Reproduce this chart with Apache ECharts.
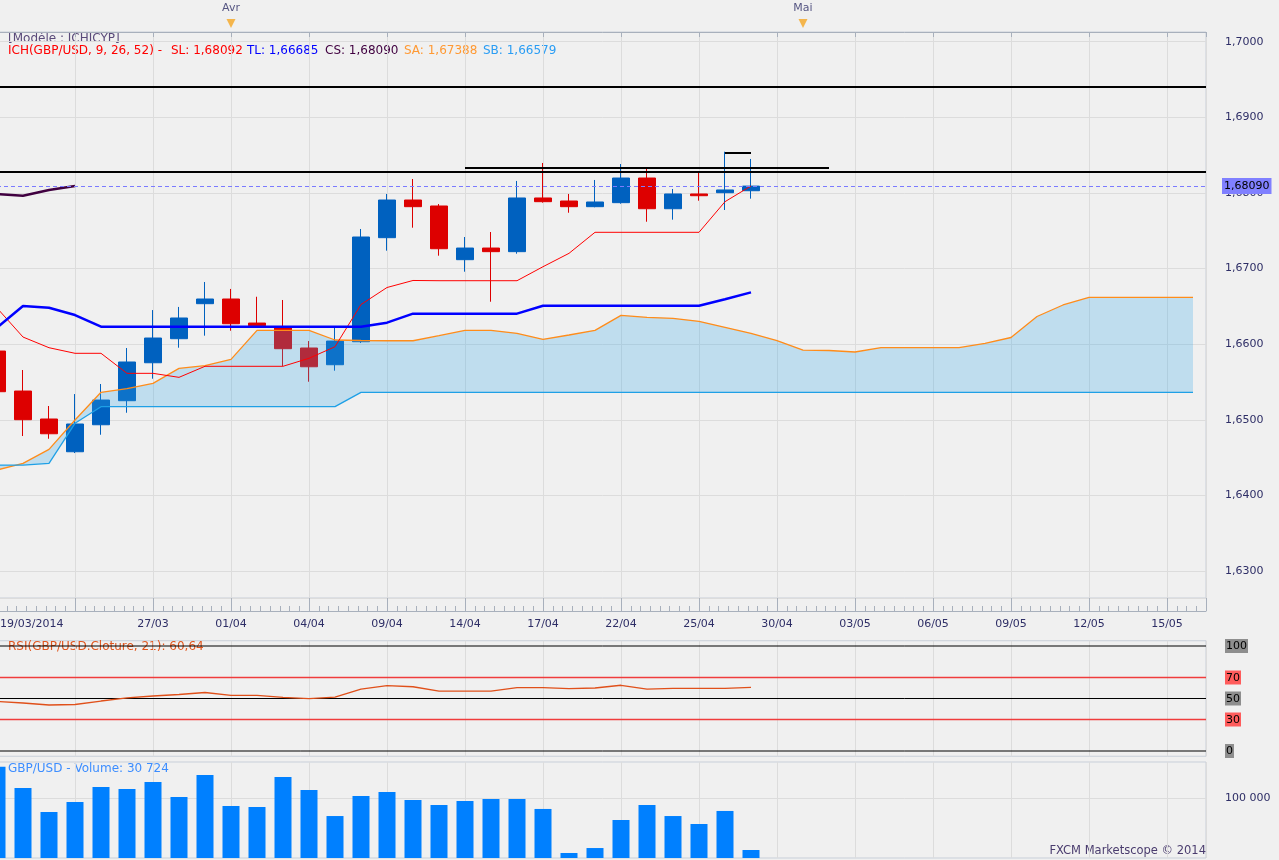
<!DOCTYPE html>
<html><head><meta charset="utf-8">
<script src="https://cdn.jsdelivr.net/npm/echarts@6/dist/echarts.min.js"></script>
<style>html,body{margin:0;padding:0;background:#F0F0F0;}#c{width:1279px;height:860px;}</style>
</head><body><div id="c"></div>
<script>
// ---------- data ----------
const dates = ['19/03/2014','20/03','21/03','24/03','25/03','26/03','27/03','28/03','31/03','01/04','02/04','03/04','04/04','07/04','08/04','09/04','10/04','11/04','14/04','15/04','16/04','17/04','18/04','21/04','22/04','23/04','24/04','25/04','28/04','29/04','30/04','01/05','02/05','03/05','04/05','05/05','06/05','07/05','08/05','09/05','10/05','11/05','12/05','13/05','14/05','15/05','16/05'];
const hiddenLabelIdx = [3];
const monthIdx = [9, 31];
const monthNames = ['Avr', 'Mai'];

const open  = [1.65909,1.65380,1.65010,1.64577,1.64934,1.65252,1.65754,1.66072,1.66535,1.66597,1.66279,1.66217,1.65949,1.65728,1.66032,1.67408,1.67906,1.67827,1.67117,1.67271,1.67223,1.67933,1.67893,1.67818,1.67871,1.68197,1.67791,1.67986,1.68003,1.68029];
const close = [1.65371,1.65001,1.64815,1.64944,1.65261,1.65764,1.66081,1.66346,1.66597,1.66270,1.66244,1.65940,1.65701,1.66041,1.67417,1.67906,1.67818,1.67262,1.67271,1.67223,1.67933,1.67884,1.67818,1.67880,1.68197,1.67791,1.67986,1.67963,1.68039,1.68090];
const low   = [1.65300,1.64785,1.64749,1.64560,1.64802,1.65093,1.65543,1.65953,1.66112,1.66178,1.66230,1.65711,1.65503,1.65649,1.66015,1.67236,1.67540,1.67170,1.66958,1.66561,1.67196,1.67871,1.67738,1.67810,1.67857,1.67619,1.67646,1.67897,1.67774,1.67924];
const high  = [1.66000,1.65658,1.65182,1.65340,1.65473,1.65949,1.66451,1.66492,1.66822,1.66730,1.66627,1.66584,1.66041,1.66217,1.67523,1.67986,1.68184,1.67853,1.67417,1.67483,1.68158,1.68396,1.67986,1.68171,1.68382,1.68330,1.68052,1.68277,1.68545,1.68449];

const tenkan = [1.66478,1.66094,1.65953,1.65879,1.65879,1.65614,1.65614,1.65561,1.65707,1.65707,1.65707,1.65707,1.65813,1.65966,1.66524,1.66749,1.66842,1.66839,1.66839,1.66839,1.66839,1.67024,1.67201,1.67479,1.67479,1.67479,1.67479,1.67479,1.67884,1.68092];
const kijun  = [1.66219,1.66504,1.66482,1.66385,1.66231,1.66231,1.66231,1.66231,1.66231,1.66231,1.66231,1.66231,1.66231,1.66231,1.66231,1.66284,1.66403,1.66403,1.66403,1.66403,1.66403,1.66508,1.66508,1.66508,1.66508,1.66508,1.66508,1.66508,1.66593,1.66685];
const chikou = [1.67986,1.67963,1.68039,1.68090];
const senkouA = [1.64335,1.64424,1.64609,1.64997,1.65363,1.65411,1.65482,1.65680,1.65715,1.65799,
                 1.66183,1.66183,1.66183,1.66055,1.66048,1.66045,1.66045,1.66112,1.66183,1.66183,
                 1.66143,1.66064,1.66121,1.66183,1.66381,1.66355,1.66342,1.66302,1.66223,1.66143,
                 1.66048,1.65922,1.65916,1.65896,1.65953,1.65953,1.65953,1.65953,1.66011,1.66088,
                 1.66366,1.66518,1.66619,1.66619,1.66619,1.66619,1.66619];
const senkouB = [1.64401,1.64401,1.64424,1.64953,1.65173,1.65173,1.65173,1.65173,1.65173,1.65173,
                 1.65173,1.65173,1.65173,1.65173,1.65363,1.65363,1.65363,1.65363,1.65363,1.65363,
                 1.65363,1.65363,1.65363,1.65363,1.65363,1.65363,1.65363,1.65363,1.65363,1.65363,
                 1.65363,1.65363,1.65363,1.65363,1.65363,1.65363,1.65363,1.65363,1.65363,1.65363,
                 1.65363,1.65363,1.65363,1.65363,1.65363,1.65363,1.65363];

const levelPrices = [1.6940, 1.6828, 1.68334, 1.68532];
const levelStart  = [0, 0, 18, 28];
const levelEnd    = [46.5, 46.5, 32, 29];

const rsi = [47.1,45.7,43.8,44.3,47.6,50.5,52.4,53.8,55.7,53.0,53.0,51.0,49.8,51.4,59.0,62.2,61.2,57.1,57.1,57.1,60.3,60.3,59.5,60.0,62.6,59.0,59.7,59.7,59.7,60.64];
const rsiLevels = [100, 70, 50, 30, 0];
const rsiLevelKind = ['g', 'r', 'g', 'r', 'g'];

const volume = [142700,114100,81800,95300,115400,112700,122100,102000,131600,89900,88500,128900,111400,76400,103300,108700,98000,91200,96600,99300,99300,85900,26700,33400,71100,91200,76400,65700,83200,30724];
const volumeRef = [100000];

const legendParts = [
  {t:'ICH(GBP/USD, 9, 26, 52) -', c:'#FF0000', x:8},
  {t:'SL: 1,68092', c:'#FF0000', x:171},
  {t:'TL: 1,66685', c:'#0000FF', x:247},
  {t:'CS: 1,68090', c:'#400040', x:325},
  {t:'SA: 1,67388', c:'#FF9933', x:404},
  {t:'SB: 1,66579', c:'#2A9DF4', x:483}
];

// ---------- chart ----------
const FONT = '"DejaVu Sans", Verdana, sans-serif';
const AX = '#A8B0BC';
const GRIDC = '#DCDCDC';
const LBL = '#2E2E66';
const XMAX = 46.5;
const fmt = (v, d) => v.toFixed(d).replace('.', ',');
const last = close.length - 1;
const thousands = v => String(v).replace(/\B(?=(\d{3})+(?!\d))/g, ' ');

const gridBase = {left: -3, width: 1209, containLabel: false, outerBoundsMode: 'none',
  show: true, borderColor: '#C8CFD9', borderWidth: 1, backgroundColor: 'transparent'};

const hiddenX = (gi) => ({gridIndex: gi, type: 'value', min: 0, max: XMAX, interval: 3,
  axisLine: {show: false}, axisTick: {show: false}, axisLabel: {show: false},
  splitLine: {show: true, lineStyle: {color: GRIDC, width: 1}}});
const frameY = (gi) => ({gridIndex: gi, type: 'value', position: 'right', offset: 15, min: 0, max: 1,
  axisLine: {show: true, lineStyle: {color: AX}}, axisTick: {show: false}, axisLabel: {show: false},
  splitLine: {show: false}});

const rsiLevelSeries = rsiLevels.map((v, k) => ({
  type: 'line', xAxisIndex: 2, yAxisIndex: 2, z: 3, symbol: 'none', silent: true,
  data: [[0, v], [XMAX, v]],
  itemStyle: {color: rsiLevelKind[k] === 'g' ? '#000000' : '#F03C3C'},
  lineStyle: {type: 'solid', width: rsiLevelKind[k] === 'g' ? 1 : 1.3, color: rsiLevelKind[k] === 'g' ? '#000000' : '#F03C3C'}
}));

const chart = echarts.init(document.getElementById('c'), null, {renderer: 'canvas'});
chart.setOption({
  animation: false,
  backgroundColor: '#F0F0F0',
  textStyle: {fontFamily: FONT},
  grid: [
    Object.assign({}, gridBase, {top: 19, height: 13, show: false}),
    Object.assign({}, gridBase, {top: 32, height: 566}),
    Object.assign({}, gridBase, {top: 640.75, height: 115.5}),
    Object.assign({}, gridBase, {top: 762, height: 96}),
    Object.assign({}, gridBase, {top: 598, height: 13, show: false})
  ],
  xAxis: [
    {gridIndex: 0, type: 'value', position: 'top', min: 0, max: XMAX, interval: 3,
     axisLine: {show: true, lineStyle: {color: AX}},
     axisTick: {show: true, inside: true, length: 5, lineStyle: {color: AX}},
     axisLabel: {show: false}, splitLine: {show: false}},
    {gridIndex: 1, type: 'value', position: 'bottom', offset: 13, min: 0, max: XMAX, interval: 3,
     axisLine: {show: true, lineStyle: {color: AX}},
     axisTick: {show: true, inside: true, length: 13, lineStyle: {color: AX}},
     minorTick: {show: true, splitNumber: 8, length: 5, lineStyle: {color: AX}},
     axisLabel: {show: true, margin: 8, color: LBL, fontSize: 11, fontFamily: FONT,
       showMinLabel: true, showMaxLabel: false, alignMinLabel: 'left',
       formatter: function (v) {
         if (Math.abs(v - Math.round(v)) > 1e-6) return '';
         const i = Math.round(v);
         if (i % 3 !== 0 || hiddenLabelIdx.indexOf(i) >= 0 || i >= dates.length) return '';
         return i === 0 ? '{f|' + dates[0] + '}' : dates[i];
       },
       rich: {f: {padding: [0, 0, 0, 3], color: LBL, fontSize: 11, fontFamily: FONT}}},
     splitLine: {show: true, lineStyle: {color: GRIDC, width: 1}}},
    hiddenX(2),
    hiddenX(3),
    {gridIndex: 4, type: 'value', min: 0, max: XMAX, show: false}
  ],
  yAxis: [
    frameY(0),
    {gridIndex: 1, type: 'value', position: 'right', offset: 15, min: 1.62643, max: 1.70128, splitNumber: 7,
     axisLine: {show: true, lineStyle: {color: AX}},
     axisTick: {show: true, inside: true, length: 14, lineStyle: {color: AX}},
     minorTick: {show: true, splitNumber: 10, length: 7, lineStyle: {color: AX}},
     axisLabel: {show: true, margin: 4, color: LBL, fontSize: 11, fontFamily: FONT,
       showMinLabel: false, showMaxLabel: false, formatter: v => fmt(v, 4)},
     splitLine: {show: true, lineStyle: {color: GRIDC, width: 1}}},
    {gridIndex: 2, type: 'value', position: 'right', offset: 15, min: -5, max: 105, interval: 5,
     axisLine: {show: true, lineStyle: {color: AX}},
     axisTick: {show: true, inside: true, length: 4, lineStyle: {color: AX}},
     axisLabel: {show: true, margin: 4, fontSize: 11, fontFamily: FONT, showMinLabel: false, showMaxLabel: false,
       formatter: function (v) {
         const k = rsiLevels.indexOf(v);
         return k < 0 ? '' : '{' + rsiLevelKind[k] + '|' + v + '}';
       },
       rich: {
         g: {backgroundColor: '#8E8E8E', color: '#000', fontSize: 11, fontFamily: FONT, padding: [2, 1, 1, 1]},
         r: {backgroundColor: '#FF5C5C', color: '#000', fontSize: 11, fontFamily: FONT, padding: [2, 1, 1, 1]}
       }},
     splitLine: {show: false}},
    {gridIndex: 3, type: 'value', position: 'right', offset: 15, min: 20000, max: 149000, interval: 10000,
     axisLine: {show: true, lineStyle: {color: AX}},
     axisTick: {show: true, inside: true, length: 5, lineStyle: {color: AX}},
     axisLabel: {show: true, margin: 4, color: LBL, fontSize: 11, fontFamily: FONT, showMinLabel: false, showMaxLabel: false,
       formatter: v => volumeRef.indexOf(v) >= 0 ? thousands(v) : ''},
     splitLine: {show: false}},
    frameY(4)
  ],
  series: [
    {type: 'candlestick', xAxisIndex: 1, yAxisIndex: 1, z: 1, barWidth: 17,
     data: open.map((o, i) => [i, o, close[i], low[i], high[i]]),
     itemStyle: {color: '#0061BF', color0: '#DD0000', borderColor: '#0061BF', borderColor0: '#DD0000', borderWidth: 1},
     markLine: {silent: true, symbol: ['none', 'none'], animation: false, precision: 6, label: {show: false},
       data: [
         [{coord: [0, close[last]], lineStyle: {type: [4, 3], color: '#7B7BFF', width: 1},
           label: {show: true, position: 'end', distance: 16, formatter: fmt(close[last], 5),
                   backgroundColor: '#8080FF', color: '#000', fontSize: 11, fontFamily: FONT, padding: [3, 2, 2, 2]}},
          {coord: [XMAX, close[last]]}]
       ].concat(levelPrices.map((p, k) => [
         {coord: [levelStart[k], p], lineStyle: {color: '#000', width: 2, type: 'solid'}},
         {coord: [levelEnd[k], p]}
       ]))
     }},
    {type: 'custom', xAxisIndex: 1, yAxisIndex: 1, z: 2, silent: true, clip: true,
     data: senkouA.map((v, i) => [i, v, senkouB[i]]),
     renderItem: function (params, api) {
       if (params.dataIndex !== 0) return null;
       const pts = [];
       for (let i = 0; i < senkouA.length; i++) pts.push(api.coord([i, senkouA[i]]));
       for (let i = senkouB.length - 1; i >= 0; i--) pts.push(api.coord([i, senkouB[i]]));
       return {type: 'polygon', shape: {points: pts}, style: {fill: 'rgba(50,165,230,0.26)'}};
     }},
    {type: 'line', xAxisIndex: 1, yAxisIndex: 1, z: 3, symbol: 'none', silent: true,
     data: senkouA.map((v, i) => [i, v]), lineStyle: {color: '#FF8C1A', width: 1.3}},
    {type: 'line', xAxisIndex: 1, yAxisIndex: 1, z: 3, symbol: 'none', silent: true,
     data: senkouB.map((v, i) => [i, v]), lineStyle: {color: '#1EA0E6', width: 1.3}},
    {type: 'line', xAxisIndex: 1, yAxisIndex: 1, z: 4, symbol: 'none', silent: true,
     data: tenkan.map((v, i) => [i, v]), lineStyle: {color: '#FF0000', width: 1}},
    {type: 'line', xAxisIndex: 1, yAxisIndex: 1, z: 4, symbol: 'none', silent: true,
     data: kijun.map((v, i) => [i, v]), lineStyle: {color: '#0000FF', width: 2.5}},
    {type: 'line', xAxisIndex: 1, yAxisIndex: 1, z: 4, symbol: 'none', silent: true,
     data: chikou.map((v, i) => [i, v]), lineStyle: {color: '#400040', width: 2.5}},
    {type: 'scatter', xAxisIndex: 0, yAxisIndex: 0, z: 5, clip: false, silent: true,
     symbol: 'triangle', symbolRotate: 180, symbolSize: [9, 9],
     data: monthIdx.map((i, k) => ({value: [i, 0.65], name: monthNames[k]})),
     itemStyle: {color: '#F5A623'},
     label: {show: true, position: 'top', distance: 5, formatter: p => p.name, color: LBL, fontSize: 11, fontFamily: FONT}},
    {type: 'line', xAxisIndex: 2, yAxisIndex: 2, z: 4, symbol: 'none', silent: true,
     data: rsi.map((v, i) => [i, v]), lineStyle: {color: '#E0501A', width: 1.3}},
    {type: 'bar', xAxisIndex: 3, yAxisIndex: 3, z: 2, barWidth: 17, silent: true,
     data: volume.map((v, i) => [i, v]), itemStyle: {color: '#0080FF'},
     markLine: {silent: true, symbol: ['none', 'none'], animation: false, label: {show: false}, z: 1,
       data: volumeRef.map(v => ({yAxis: v, lineStyle: {type: 'solid', width: 1, color: GRIDC}}))}}
  ].concat(rsiLevelSeries),
  graphic: [
    {type: 'text', left: 8, top: 33, silent: true,
     style: {text: '[Modèle : ICHICYP]', fill: '#5A4A7A', font: '12px ' + FONT}}
  ].concat(legendParts.map(p => ({type: 'text', left: p.x, top: 45, silent: true,
     style: {text: p.t, fill: p.c, font: '12px ' + FONT}}))).concat([
    {type: 'text', left: 8, top: 641, silent: true,
     style: {text: 'RSI(GBP/USD.Cloture, 21): ' + fmt(rsi[rsi.length - 1], 2), fill: '#E0561E', font: '12px ' + FONT}},
    {type: 'text', left: 8, top: 763, silent: true,
     style: {text: 'GBP/USD - Volume: ' + thousands(volume[volume.length - 1]), fill: '#3C8DFF', font: '12px ' + FONT}},
    {type: 'text', right: 73, top: 845, silent: true,
     style: {text: 'FXCM Marketscope © 2014', fill: '#4A3C6E', font: '11.5px ' + FONT}}
  ])
});
</script>
</body></html>
